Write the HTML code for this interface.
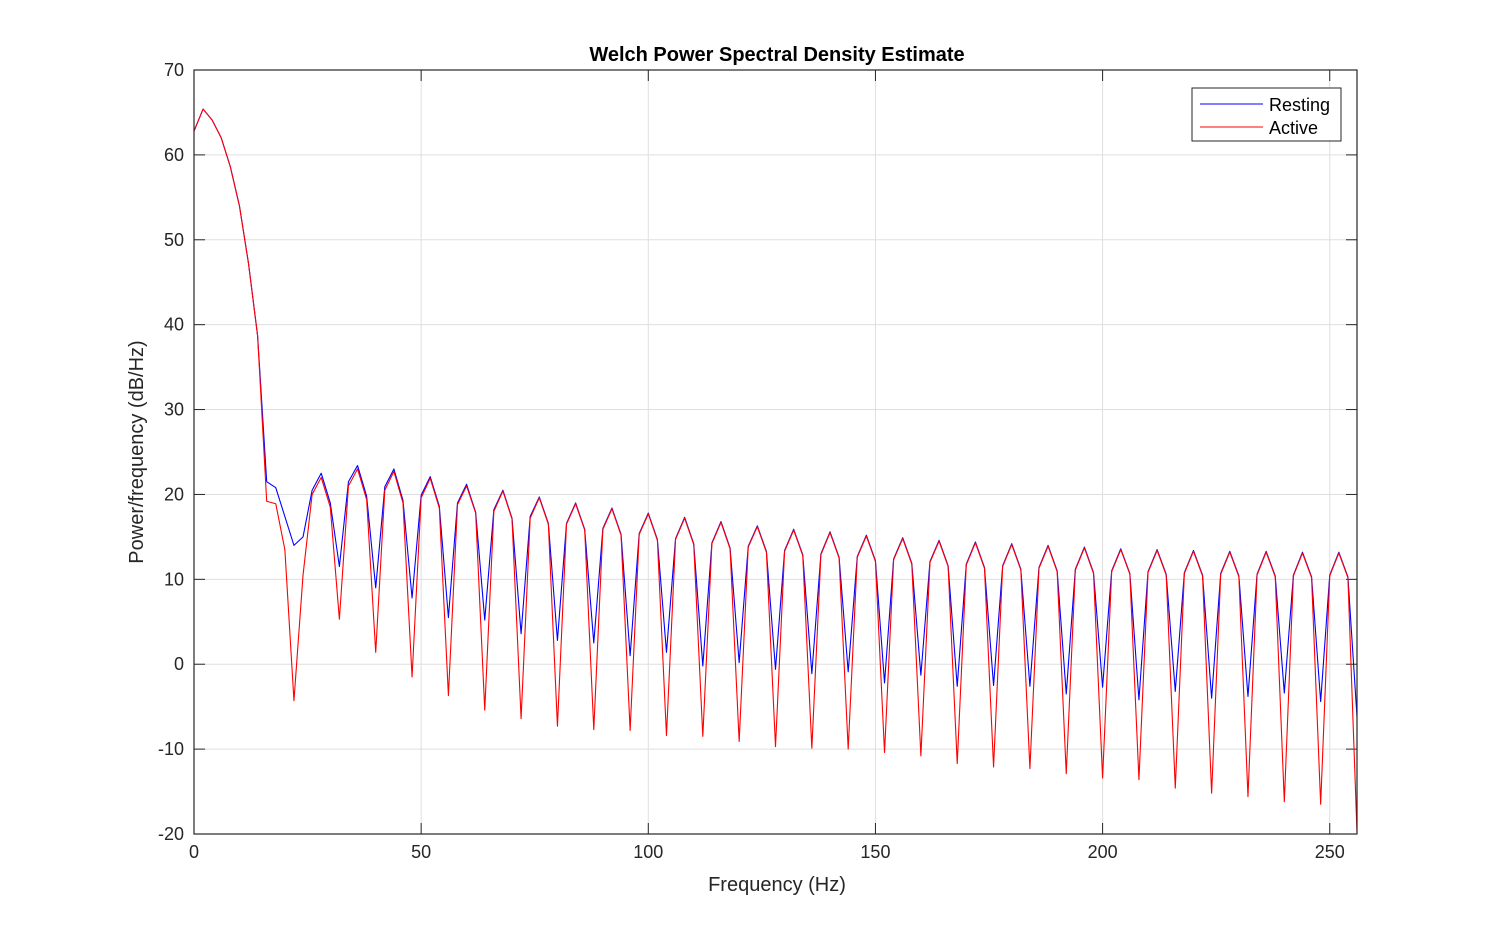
<!DOCTYPE html>
<html><head><meta charset="utf-8"><style>
body{margin:0;background:#fff;font-family:"Liberation Sans",sans-serif}
svg{display:block}
</style></head><body>
<svg id="chart" width="1500" height="938" xmlns="http://www.w3.org/2000/svg">
<rect width="1500" height="938" fill="#fff"/>
<g id="grid"></g><g id="ticks"></g><g id="series"></g>
<rect x="194" y="70" width="1163" height="764" fill="none" stroke="#262626" stroke-width="1.2"/>
<text x="777" y="61" text-anchor="middle" font-size="20" font-weight="bold" fill="#000">Welch Power Spectral Density Estimate</text>
<text x="777" y="891" text-anchor="middle" font-size="20" fill="#262626">Frequency (Hz)</text>
<text transform="translate(143,452) rotate(-90)" text-anchor="middle" font-size="20" fill="#262626">Power/frequency (dB/Hz)</text>
<g>
<rect x="1192" y="88" width="149" height="53" fill="#fff" stroke="#262626" stroke-width="1"/>
<line x1="1200" y1="104" x2="1263" y2="104" stroke="#0000ff" stroke-width="1"/>
<text x="1269" y="111" font-size="18" fill="#000">Resting</text>
<line x1="1200" y1="127" x2="1263" y2="127" stroke="#ff0000" stroke-width="1"/>
<text x="1269" y="134" font-size="18" fill="#000">Active</text>
</g>
</svg>
<script>
const xTicks=[0,50,100,150,200,250];
const yTicks=[-20,-10,0,10,20,30,40,50,60,70];
const resting=[62.8,65.4,64.1,62.0,58.6,54.0,47.2,38.7,21.5,20.8,17.4,14.0,15.0,20.5,22.5,19.0,
11.5,21.5,23.4,19.8, 9.0,20.9,23.0,19.3, 7.8,19.9,22.1,18.6, 5.5,19.0,21.2,17.9,
5.2,18.2,20.5,17.2, 3.6,17.4,19.7,16.6, 2.8,16.6,19.0,15.9, 2.5,16.0,18.4,15.3,
1.0,15.4,17.8,14.7, 1.4,14.8,17.3,14.2, -0.2,14.3,16.8,13.7, 0.2,13.9,16.3,13.3,
-0.6,13.4,15.9,12.9, -1.1,13.0,15.6,12.6, -0.9,12.7,15.2,12.2, -2.2,12.4,14.9,11.9,
-1.3,12.1,14.6,11.6, -2.6,11.8,14.4,11.4, -2.5,11.6,14.2,11.2, -2.6,11.4,14.0,11.0,
-3.5,11.2,13.8,10.8, -2.7,11.0,13.6,10.7, -4.2,10.9,13.5,10.6, -3.2,10.8,13.4,10.5,
-4.0,10.7,13.3,10.4, -3.8,10.6,13.3,10.4, -3.4,10.5,13.2,10.3, -4.4,10.5,13.2,10.3, -6.2];
const active=[62.8,65.4,64.1,62.0,58.6,54.0,47.2,38.7,19.2,18.9,13.5,-4.3,10.5,20.0,22.0,18.5,
5.3,21.0,23.0,19.4, 1.4,20.5,22.7,19.0, -1.5,19.6,21.9,18.4, -3.7,18.8,21.0,17.8,
-5.4,18.0,20.4,17.1, -6.4,17.2,19.6,16.5, -7.3,16.5,18.9,15.8, -7.7,15.9,18.3,15.2,
-7.8,15.3,17.7,14.6, -8.4,14.7,17.2,14.1, -8.5,14.2,16.7,13.6, -9.1,13.8,16.2,13.2,
-9.7,13.3,15.8,12.8, -9.9,12.9,15.5,12.5, -10.0,12.6,15.1,12.1, -10.4,12.3,14.8,11.8,
-10.8,12.0,14.5,11.5, -11.7,11.7,14.3,11.3, -12.1,11.5,14.1,11.1, -12.3,11.3,13.9,10.9,
-12.9,11.1,13.7,10.7, -13.4,10.9,13.5,10.6, -13.6,10.8,13.4,10.5, -14.6,10.7,13.3,10.4,
-15.2,10.6,13.2,10.3, -15.6,10.5,13.2,10.3, -16.2,10.4,13.1,10.2, -16.5,10.4,13.1,10.2, -19.8];
const NS="http://www.w3.org/2000/svg";
const X0=194,X1=1357,Y0=834,Y1=70,XMAX=256,YMIN=-20,YMAX=70;
const sx=v=>X0+(v/XMAX)*(X1-X0);
const sy=v=>Y0-(v-YMIN)/(YMAX-YMIN)*(Y0-Y1);
const grid=document.getElementById('grid'),ticks=document.getElementById('ticks'),series=document.getElementById('series');
function mk(tag,attrs,parent){const e=document.createElementNS(NS,tag);for(const k in attrs)e.setAttribute(k,attrs[k]);parent.appendChild(e);return e;}
xTicks.forEach(t=>{
  const x=sx(t);
  const g=mk('line',{x1:x,x2:x,y1:Y1,y2:Y0,stroke:'#dfdfdf','stroke-width':1},grid);
  
  
  mk('line',{x1:x,x2:x,y1:Y0,y2:Y0-11,stroke:'#262626'},ticks);
  mk('line',{x1:x,x2:x,y1:Y1,y2:Y1+11,stroke:'#262626'},ticks);
  const l=mk('text',{x:x,y:Y0+24,'text-anchor':'middle','font-size':18,fill:'#262626'},ticks);
  l.textContent=t;
  
  
});
yTicks.forEach(t=>{
  const y=sy(t);
  const g=mk('line',{x1:X0,x2:X1,y1:y,y2:y,stroke:'#dfdfdf','stroke-width':1},grid);
  
  
  mk('line',{x1:X0,x2:X0+11,y1:y,y2:y,stroke:'#262626'},ticks);
  mk('line',{x1:X1,x2:X1-11,y1:y,y2:y,stroke:'#262626'},ticks);
  const l=mk('text',{x:X0-10,y:y+6,'text-anchor':'end','font-size':18,fill:'#262626'},ticks);
  l.textContent=t;
  
  
});
function draw(vals,color,name){
  const pts=vals.map((v,i)=>sx(i*XMAX/(vals.length-1)).toFixed(2)+','+sy(v).toFixed(2)).join(' ');
  const p=mk('polyline',{points:pts,fill:'none',stroke:color,'stroke-width':1.1,'stroke-linejoin':'round'},series);
  
  
}
draw(resting,'#0000ff','resting-line');
draw(active,'#ff0000','active-line');
</script>
</body></html>
